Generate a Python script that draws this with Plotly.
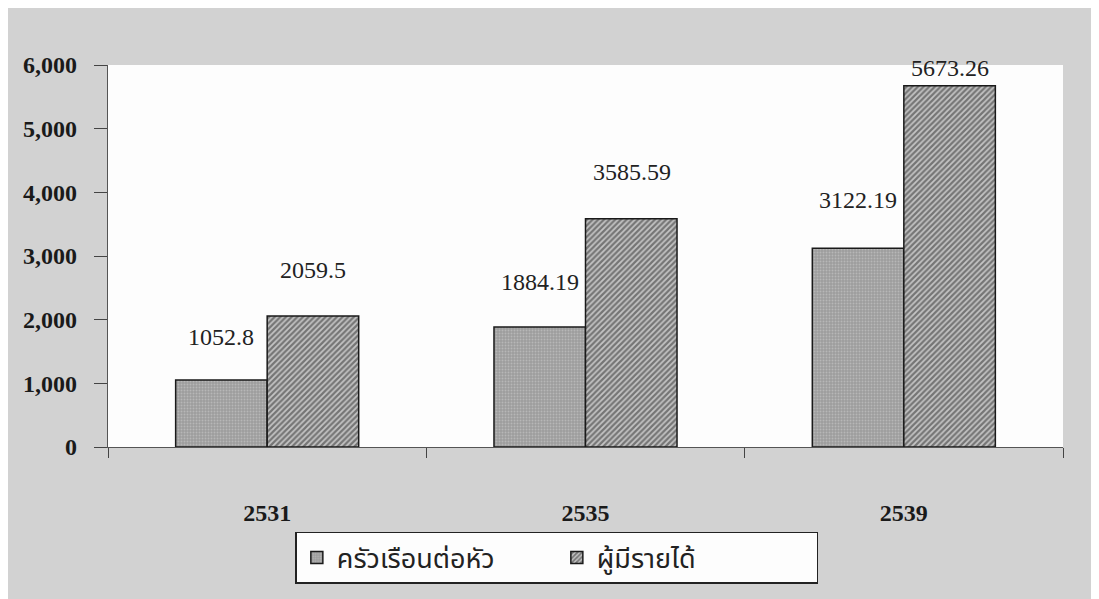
import plotly.graph_objects as go

# data
years = ["2531", "2535", "2539"]
per_household = [1052.8, 1884.19, 3122.19]   # ครัวเรือนต่อหัว
per_earner = [2059.5, 3585.59, 5673.26]       # ผู้มีรายได้
y_ticks = [0, 1000, 2000, 3000, 4000, 5000, 6000]

# how far (px) each value label sits above its bar in the original
label_shift_hh = [43, 45, 48]
label_shift_earn = [46, 47, 18]

serif = "Liberation Serif, Times New Roman, serif"
thai = "Noto Sans Thai, Loma, Garuda, Tlwg Typo, Norasi, Noto Sans, sans-serif"

fig = go.Figure()

fig.add_trace(go.Bar(
    x=years, y=per_household, name="ครัวเรือนต่อหัว",
    marker=dict(color="#a6a6a6",
                line=dict(color="#1a1a1a", width=1.5),
                pattern=dict(shape=".", fgcolor="#d2d2d2", bgcolor="#9c9c9c",
                             size=3, solidity=0.35)),
))
fig.add_trace(go.Bar(
    x=years, y=per_earner, name="ผู้มีรายได้",
    marker=dict(color="#5a5a5a",
                line=dict(color="#1a1a1a", width=1.5),
                pattern=dict(shape="/", fgcolor="#262626", bgcolor="#c4c4c4",
                             size=4, solidity=0.55)),
))

# value labels above the bars (offset per bar like the original)
for i, yr in enumerate(years):
    fig.add_annotation(x=i, y=per_household[i], text=f"{per_household[i]:g}",
                       xshift=-46, yshift=label_shift_hh[i], showarrow=False,
                       font=dict(family=serif, size=24, color="#222"))
    fig.add_annotation(x=i, y=per_earner[i], text=f"{per_earner[i]:g}",
                       xshift=46, yshift=label_shift_earn[i], showarrow=False,
                       font=dict(family=serif, size=24, color="#222"))

fig.update_layout(
    width=1099, height=599,
    margin=dict(l=100, r=44, t=57, b=160),
    paper_bgcolor="#d2d2d2",
    plot_bgcolor="#fdfdfd",
    barmode="group",
    bargap=0.425,
    bargroupgap=0,
    showlegend=True,
    legend=dict(orientation="h", x=0.47, xanchor="center", y=-0.2225, yanchor="top",
                bgcolor="#fdfdfd", bordercolor="#222", borderwidth=1.5,
                font=dict(family=thai, size=27, color="#222"),
                entrywidth=215, itemwidth=30, traceorder="normal"),
    xaxis=dict(type="category", categoryorder="array", categoryarray=years,
               tickson="boundaries", ticks="outside", ticklen=10, tickwidth=1.3,
               tickcolor="#444", showline=True, linecolor="#555", linewidth=1.3,
               showgrid=False, ticklabelstandoff=44,
               tickfont=dict(family=serif, size=24, color="#1a1a1a", weight="bold")),
    yaxis=dict(range=[0, 6000], tickvals=y_ticks, tickformat=",",
               ticks="outside", ticklen=13, tickwidth=1.3, tickcolor="#444",
               showline=True, linecolor="#555", linewidth=1.3,
               showgrid=False, zeroline=False, ticklabelstandoff=12,
               tickfont=dict(family=serif, size=24, color="#1a1a1a", weight="bold")),
    yaxis2=dict(range=[0, 6000], tickvals=y_ticks, overlaying="y", anchor="x",
                ticks="inside", ticklen=10, tickwidth=1.3, tickcolor="#444",
                showticklabels=False, showgrid=False, zeroline=False, showline=False),
)

fig.write_html("out.html")
